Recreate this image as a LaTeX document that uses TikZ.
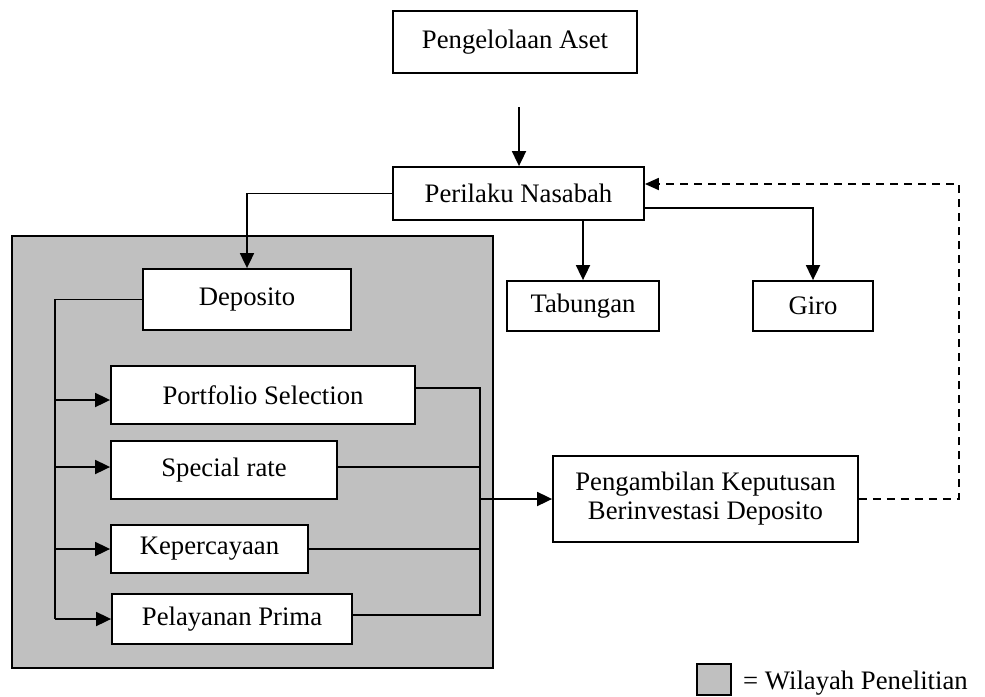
\documentclass[tikz,border=0pt]{standalone}
\usepackage{fontspec}
\setmainfont{Liberation Serif}
\usetikzlibrary{arrows.meta}
\definecolor{regiongray}{HTML}{C0C0C0}
\begin{document}
\begin{tikzpicture}[x=1pt,y=-1pt,
  box/.style={draw, line width=1.8pt, fill=white, inner sep=0pt, align=center,
              font=\fontsize{26.7}{29}\selectfont},
  regionbox/.style={draw, line width=1.8pt, fill=regiongray, inner sep=0pt},
  arr/.style={line width=1.8pt, -{Triangle[length=15pt,width=14pt]}},
  dasharr/.style={line width=1.8pt, dash pattern=on 8pt off 6pt, -{Triangle[length=14pt,width=12pt]}},
  wire/.style={line width=1.8pt},
  thinwire/.style={line width=1.4pt}]
\useasboundingbox (0,0) rectangle (985,696);

% research region
\node[regionbox, minimum width=481pt, minimum height=432pt] (region) at (252.5,452) {};

% boxes
\node[box, minimum width=244pt, minimum height=62pt] (aset) at (515,42) {Pengelolaan Aset};
\node[box, minimum width=251pt, minimum height=53pt] (perilaku) at (518.5,193.5) {Perilaku Nasabah};
\node[box, minimum width=152pt, minimum height=50pt] (tab) at (583,306) {Tabungan};
\node[box, minimum width=120pt, minimum height=50pt] (giro) at (813,306) {Giro};
\node[box, minimum width=208pt, minimum height=61pt] (dep) at (247,299.5) {Deposito};
\node[box, minimum width=304pt, minimum height=58pt] (port) at (263,395) {Portfolio Selection};
\node[box, minimum width=226pt, minimum height=58pt] (spec) at (224,470) {Special rate};
\node[box, minimum width=197pt, minimum height=48pt] (kep) at (209.5,549) {Kepercayaan};
\node[box, minimum width=240pt, minimum height=50pt] (pel) at (232,619) {Pelayanan Prima};
\node[box, minimum width=305pt, minimum height=86pt] (ambil) at (705.5,499)
  {Pengambilan Keputusan\\Berinvestasi Deposito};

% legend
\node[regionbox, line width=1.5pt, minimum width=34pt, minimum height=31pt] (legsq) at (714,679.5) {};
\node[anchor=base west, inner sep=0pt, font=\fontsize{26.7}{29}\selectfont] (legtext) at (743,689) {= Wilayah Penelitian};

% top arrow
\coordinate (a1) at (519,107);
\draw[arr] (a1) -- (a1 |- perilaku.north);

% from Perilaku Nasabah
\draw[arr] (perilaku.west) -| (dep.north);
\coordinate (pg) at ([yshift=-14.5pt]perilaku.east);
\draw[arr] (pg) -| (giro.north);
\draw[arr] (perilaku.south -| tab.north) -- (tab.north);

% feedback (dashed)
\coordinate (pin) at ([yshift=9.5pt]perilaku.east);
\draw[dasharr] (ambil.east) -- ++(100,0) |- (pin);

% distribution bus on the left
\coordinate (bus) at (55,299.5);
\coordinate (pa) at ([yshift=-5pt]port.west);
\coordinate (sa) at ([yshift=3pt]spec.west);
\draw[wire] (dep.west) -- (bus) -- (bus |- pel.west);
\draw[arr] (bus |- pa) -- (pa);
\draw[arr] (bus |- sa) -- (sa);
\draw[arr] (bus |- kep.west) -- (kep.west);
\draw[arr] (bus |- pel.west) -- (pel.west);

% collector on the right
\coordinate (col) at (480,499);
\coordinate (pr) at ([yshift=7pt]port.east);
\coordinate (sr) at ([yshift=3pt]spec.east);
\coordinate (lr) at ([yshift=4pt]pel.east);
\draw[thinwire] (pr) -| (lr -| col) -- (lr);
\draw[thinwire] (sr) -- (sr -| col);
\draw[thinwire] (kep.east) -- (kep.east -| col);
\draw[arr] (col) -- (ambil.west);
\end{tikzpicture}
\end{document}
